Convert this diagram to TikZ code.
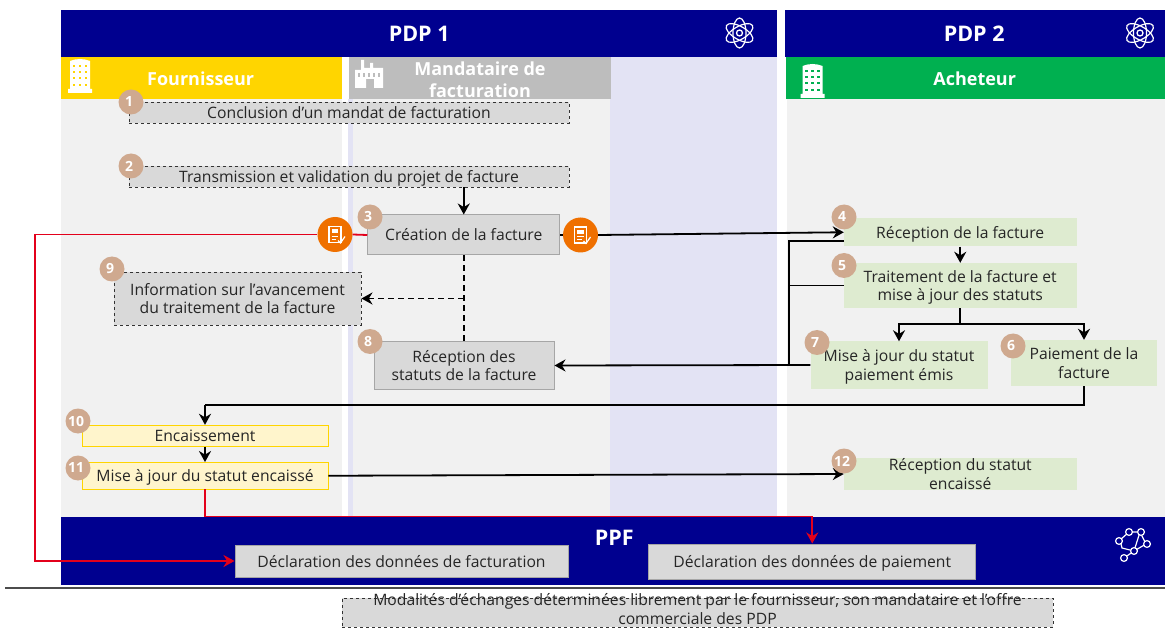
\documentclass[tikz,border=0pt]{standalone}
\usepackage{fontspec}
\setmainfont{Open Sans}
\usepackage{tikz}
\usetikzlibrary{positioning,arrows.meta}

\definecolor{bleupdp}{HTML}{00008F}
\definecolor{jaunef}{HTML}{FFD500}
\definecolor{grism}{HTML}{BDBDBD}
\definecolor{vertach}{HTML}{00B050}
\definecolor{fond}{HTML}{F1F1F1}
\definecolor{lavande}{HTML}{E3E3F4}
\definecolor{grisbox}{HTML}{D9D9D9}
\definecolor{vertbox}{HTML}{DEEBD0}
\definecolor{jaunebox}{HTML}{FFF5CC}
\definecolor{pastillecol}{HTML}{CFA98F}
\definecolor{orangedoc}{HTML}{EF7000}
\definecolor{rouge}{HTML}{E3001B}

\newcommand{\ligne}{\rule[-4.5pt]{0pt}{21pt}}
\newcommand{\haut}{\rule{0pt}{16.5pt}}
\newcommand{\bas}{\rule[-4.5pt]{0pt}{4.5pt}}

\tikzset{
    pics/atome/.style = {code = {
        \foreach \a in {30,90,150}
            \draw [white, line width = 1.2pt, rotate = \a] (0,0) ellipse [x radius = 15, y radius = 6.5];
        \draw [white, line width = 1.3pt] (0,0) circle (3);
    }},
    pics/immeuble/.style = {code = {
        \fill [white] (-10,-14) to [bend left = 20] (10,-14) -- (10,14) -- (12,14) -- (12,18) -- (-12,18) -- (-12,14) -- (-10,14) -- cycle;
        \foreach \i in {-6,0,6}
            \foreach \j in {-9,-3,3,10}
                \fill [#1] (\i-1.2,\j-1.2) rectangle (\i+1.2,\j+1.2);
    }},
    pics/usine/.style = {code = {
        \fill [white] (-14,14) -- (-14,-4) -- (-8,-4) -- (-8,-14) -- (-5,-14) -- (-5,-6) -- (1,-6) -- (1,-11) -- (4,-11) -- (4,-6) -- (14,-6) -- (14,14) -- (5,14) -- (5,5) -- (-3,5) -- (-3,14) -- cycle;
        \foreach \i in {-10,-5,0,5,10}
            \fill [grism] (\i-1.3,-1) rectangle (\i+1.3,3);
    }},
    pics/document/.style = {code = {
        \draw [white, line width = 1.2pt] (-6,-8) rectangle (6,8);
        \fill [white] (-3.5,-5) rectangle (3,-1);
        \draw [white, line width = 1pt] (-3.5,2) -- (3,2) (-3.5,5) -- (1,5);
        \draw [white, line width = 1.2pt] (3,6) -- (5.5,8.5) -- (10,2);
    }},
    pics/reseau/.style = {code = {
        \draw [white, line width = 1.2pt] (-12,-3) -- (-3,-11) -- (8,-11) -- (14,1) -- (2,8) -- (-10,5) -- cycle (2,8) -- (-8,15) (8,-11) -- (2,8);
        \foreach \p in {(-13,-2),(-3,-11),(9,-11),(15,1),(2,8),(-8,15)}
            \draw [white, fill = bleupdp, line width = 1.2pt] \p circle (3.4);
    }}
}

\begin{document}
\begin{tikzpicture}[x = 1pt, y = -1pt,
    every node/.style = { align = center, inner sep = 0pt, font = \fontsize{15.7}{18.8}\selectfont, text = black!85 },
    bande/.style = { fill = bleupdp, text = white, font = \fontsize{21.5}{25}\selectfont\bfseries },
    entete/.style = { text = white, minimum height = 42.5pt, inner ysep = -4pt, font = \fontsize{18}{22}\selectfont\bfseries },
    pointille/.style = { draw = black!80, dashed, line width = .9pt, fill = grisbox, inner ysep = -5pt },
    gris/.style = { draw = black!35, line width = 1pt, fill = grisbox },
    vert/.style = { fill = vertbox, inner ysep = -5pt },
    jaune/.style = { draw = jaunef, line width = .9pt, fill = jaunebox, inner ysep = -3pt },
    pastille/.style = { circle, fill = pastillecol, minimum size = 25pt, text = white, font = \fontsize{14}{14}\selectfont\bfseries },
    docrond/.style = { circle, fill = orangedoc, minimum size = 35pt },
    fleche/.style = { draw = black, line width = 1.8pt, -{Stealth[length = 11pt, width = 12pt]} },
    trait/.style = { draw = black, line width = 1.8pt },
    tiret/.style = { draw = black, line width = 1.8pt, dashed, dash pattern = on 6pt off 4pt },
    rougef/.style = { draw = rouge, line width = 1.8pt, -{Stealth[length = 11pt, width = 12pt]} },
    rouget/.style = { draw = rouge, line width = 1.8pt }
    ]
    \useasboundingbox (0,0) rectangle (1165,628);

    \fill [fond] (61,99) rectangle (342,517);
    \fill [lavande] (348,99) rectangle (353,517);
    \fill [fond] (353,99) rectangle (610,517);
    \fill [lavande] (610,56) rectangle (777,517);
    \fill [fond] (787,99) rectangle (1165,517);

    \node [bande, minimum width = 716pt, minimum height = 46.5pt] (pdpun) at (419,33.5) { \hspace*{6pt}PDP 1 };
    \node [bande, minimum width = 380.5pt, minimum height = 46.5pt] (pdpdeux) at (975,33.5) { \hspace*{4pt}PDP 2 };
    \node [entete, fill = jaunef, minimum width = 281pt, text height = 16pt, text depth = 0pt] (fournisseur) at (201.5,78) { \hspace*{3pt}Fournisseur };
    \node [entete, fill = grism, minimum width = 262pt] (mandataire) at (480,78) { \rule{0pt}{18pt}Mandataire de \\ facturation };
    \node [entete, fill = vertach, minimum width = 379.5pt, text height = 16pt, text depth = 0pt] (acheteur) at (975.5,78) { \hspace*{3pt}Acheteur };
    \node [bande, minimum width = 1104pt, minimum height = 68pt] (ppf) at (613,551) {};
    \node [font = \fontsize{21.5}{25}\selectfont\bfseries, text = white] (ppftexte) at (617,538) { PPF };

    \pic at (739.5,33) {atome};
    \pic at (1140,33) {atome};
    \pic at (80,75) {immeuble = jaunef};
    \pic at (812.5,80) {immeuble = vertach};
    \pic at (369,74) {usine};
    \pic at (1132,543) {reseau};

    \draw [line width = 1.2pt, black!70] (5,588) -- (1165,588);

    \node [pointille, minimum width = 440pt, minimum height = 21pt] (mandat) at (349,112.5) { Conclusion d’un mandat de facturation\ligne };
    \node [pointille, minimum width = 440pt, minimum height = 21pt] (projet) at (349,176.5) { Transmission et validation du projet de facture\ligne };
    \node [gris, minimum width = 192pt, minimum height = 40pt] (creation) at (463.75,235) { Création de la facture\ligne };
    \node [pointille, minimum width = 247pt, minimum height = 53pt] (information) at (237.5,298.5) { \haut Information sur l’avancement \\ du traitement de la facture\bas };
    \node [gris, minimum width = 180pt, minimum height = 47pt] (statuts) at (464,365.5) { \haut Réception des \\ statuts de la facture\bas };
    \node [vert, minimum width = 232.5pt, minimum height = 28.5pt] (reception) at (960.25,232.25) { Réception de la facture\ligne };
    \node [vert, minimum width = 232.5pt, minimum height = 45pt] (traitement) at (960.25,285.5) { \haut Traitement de la facture et \\ mise à jour des statuts\bas };
    \node [vert, minimum width = 177pt, minimum height = 47pt] (majpaiement) at (899,365) { \haut Mise à jour du statut \\ paiement émis\bas };
    \node [vert, minimum width = 146pt, minimum height = 46pt] (paiement) at (1084,363) { \haut Paiement de la \\ facture\bas };
    \node [jaune, minimum width = 246pt, minimum height = 21pt] (encaissement) at (205,435.75) { Encaissement\ligne };
    \node [jaune, minimum width = 246pt, minimum height = 26.5pt] (majencaisse) at (205,475.75) { Mise à jour du statut encaissé\ligne };
    \node [vert, minimum width = 232.5pt, minimum height = 32pt] (recepencaisse) at (960.25,474) { \haut Réception du statut \\ encaissé\bas };
    \node [gris, minimum width = 333pt, minimum height = 32pt] (declfacture) at (401.5,561) { Déclaration des données de facturation\ligne };
    \node [gris, minimum width = 327pt, minimum height = 35pt] (declpaiement) at (812.25,561.5) { Déclaration des données de paiement\ligne };
    \node [pointille, minimum width = 711pt, minimum height = 29pt] (modalites) at (697.5,612.5) { Modalités d’échanges déterminées librement par le fournisseur, son mandataire et l’offre \\ commerciale des PDP\rule[-7pt]{0pt}{7pt} };

    \node [docrond] (docgauche) at (335,234.5) {};
    \node [docrond] (docdroite) at (580.5,235) {};
    \pic at (docgauche) {document};
    \pic at (docdroite) {document};

    \coordinate (coinrouge) at (35,234.5);
    \coordinate (departrouge) at (205,516.5);
    \coordinate (departquatre) at (844,241);
    \coordinate (coinstatut) at (789,365);
    \coordinate (branche) at (463.75,298.5);
    \coordinate (retour) at (205,405);

    \draw [rouget] (creation.west) -- (docgauche.east);
    \draw [rougef] (docgauche.west) -- (coinrouge) |- (declfacture.west);
    \draw [rouget] (majencaisse.south) -- (departrouge);
    \draw [rougef] (departrouge) -| (declpaiement.north);
    \draw [fleche] (projet.south -| creation.north) -- (creation.north);
    \draw [trait] (creation.east) -- (docdroite.west);
    \draw [fleche] (docdroite.east) -- (reception.west);
    \draw [tiret] (creation.south) -- (creation.south |- statuts.north);
    \draw [tiret, -{Stealth[length = 11pt, width = 12pt]}] (branche) -- (information.east |- branche);
    \draw [fleche] (reception.south) -- (traitement.north);
    \draw [trait] (departquatre) -| (coinstatut);
    \draw [trait] (traitement.west) -- (traitement.west -| coinstatut);
    \draw [fleche] (majpaiement.west) -- (statuts.east);
    \draw [trait] (traitement.south) -- ++(0,16) coordinate (fourche);
    \draw [fleche] (fourche) -| (majpaiement.north);
    \draw [fleche] (fourche) -| (paiement.north);
    \draw [trait] (paiement.south) |- (retour);
    \draw [fleche] (retour) -- (encaissement.north);
    \draw [fleche] (encaissement.south) -- (majencaisse.north);
    \draw [fleche] (majencaisse.east) -- (recepencaisse.west);

    \node [pastille] (numun) at (131,102) { 1 };
    \node [pastille] (numdeux) at (131,166) { 2 };
    \node [pastille] (numtrois) at (370,217) { 3 };
    \node [pastille] (numquatre) at (844,217) { 4 };
    \node [pastille] (numcinq) at (844,265.5) { 5 };
    \node [pastille] (numsix) at (1013,346) { 6 };
    \node [pastille] (numsept) at (817,342.5) { 7 };
    \node [pastille] (numhuit) at (370,341.5) { 8 };
    \node [pastille] (numneuf) at (112,269) { 9 };
    \node [pastille] (numdix) at (78,421) { 10 };
    \node [pastille] (numonze) at (78,468) { 11 };
    \node [pastille] (numdouze) at (844,461) { 12 };
\end{tikzpicture}
\end{document}
